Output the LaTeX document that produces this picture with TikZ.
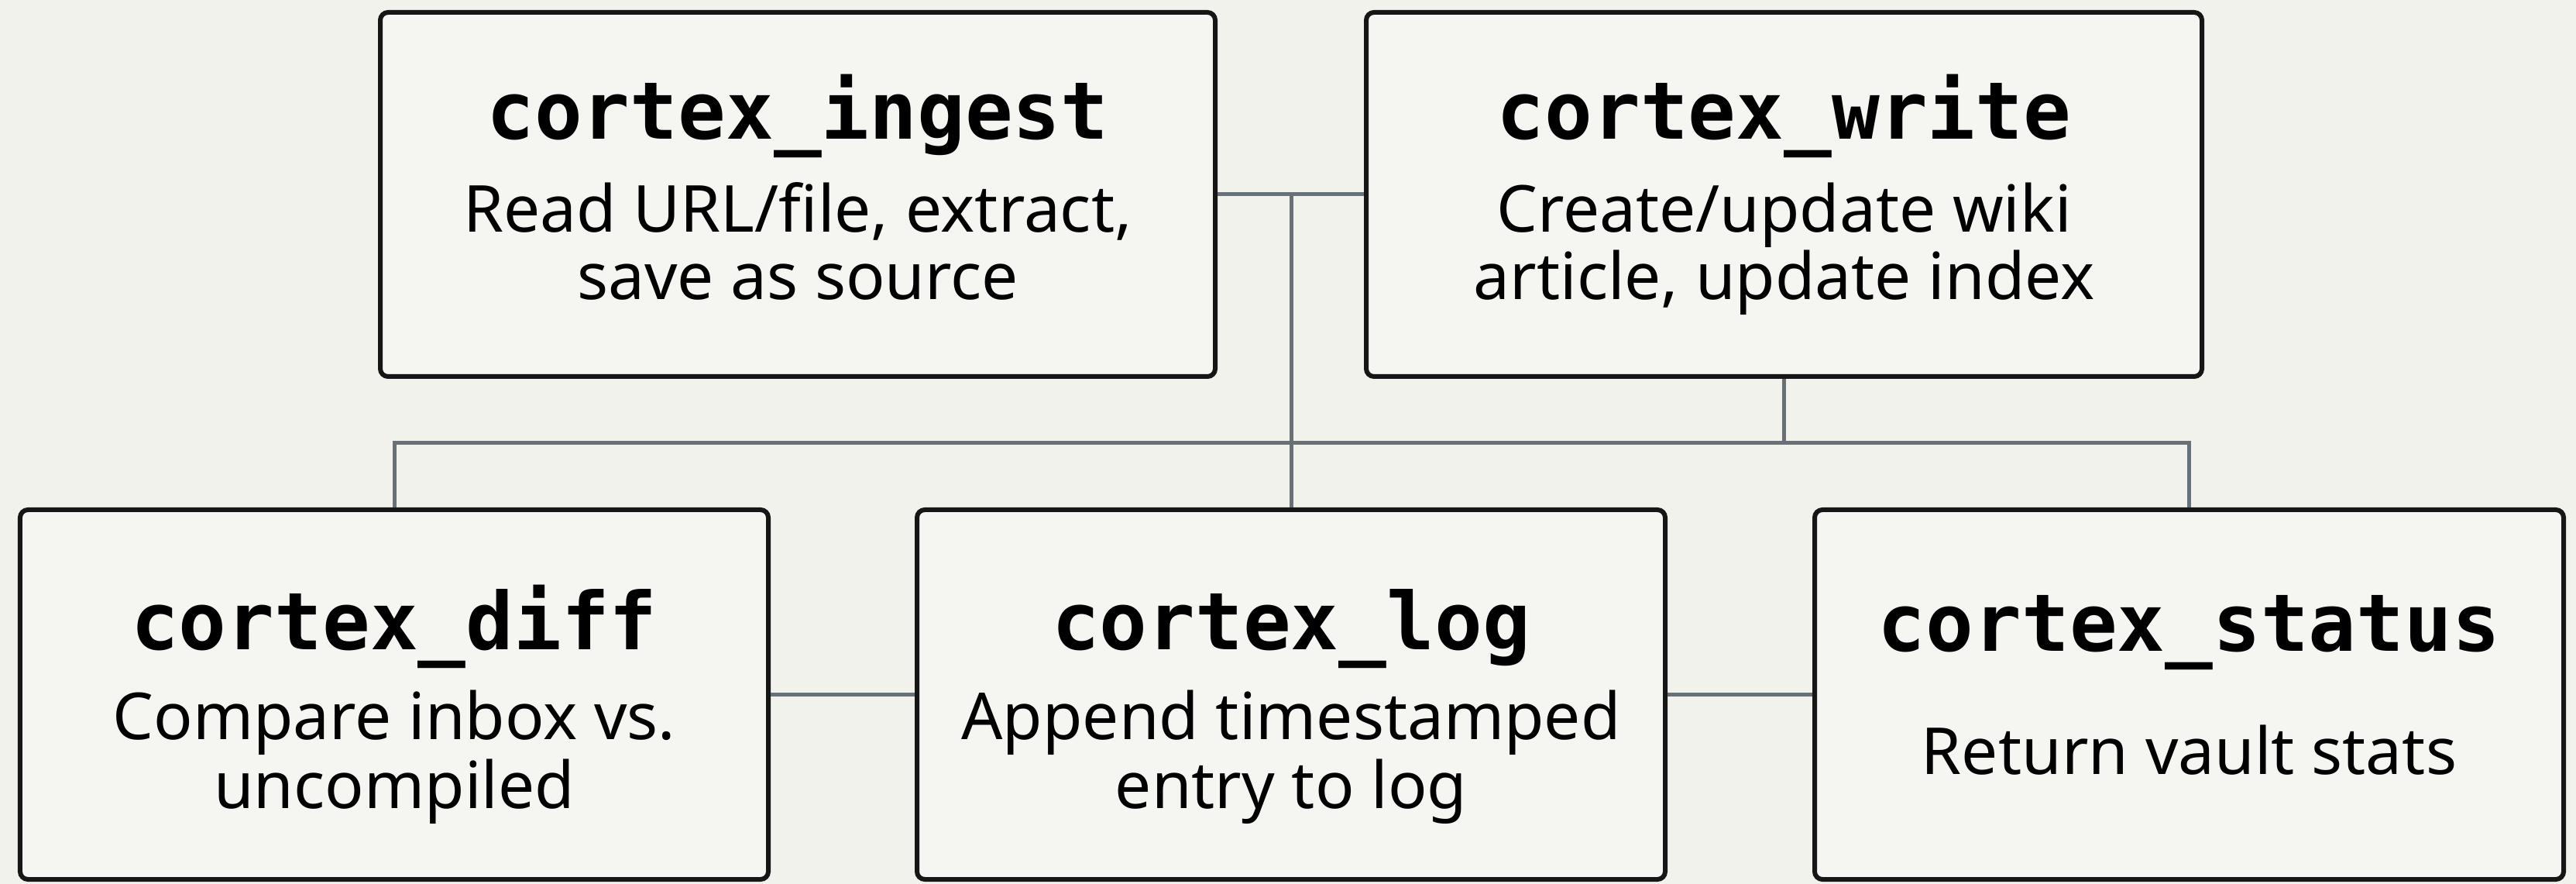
\documentclass[tikz,border=0pt]{standalone}
\usepackage{fontspec}
\setmainfont{Noto Sans}
\newfontfamily\titlefont{DejaVu Sans Mono}
\definecolor{bgc}{RGB}{242,242,237}
\definecolor{boxfill}{RGB}{245,245,241}
\definecolor{wire}{RGB}{104,112,120}
\definecolor{edge}{RGB}{22,22,22}
\begin{document}
\begin{tikzpicture}[
  box/.style={draw=edge, line width=0.06cm, fill=boxfill, rounded corners=0.1cm, inner sep=0pt},
  ttl/.style={anchor=base, inner sep=0pt, font=\titlefont\bfseries\fontsize{29.2}{34}\selectfont, text=black},
  dsc/.style={anchor=base, inner sep=0pt, font=\fontsize{23.8}{28}\selectfont, text=black},
  wireln/.style={draw=wire, line width=0.05cm}
]
\path[use as bounding box, fill=bgc] (0,0) rectangle (33.26,-11.41);

% boxes
\node[box, minimum width=10.78cm, minimum height=4.70cm] (ingest) at (10.30,-2.51) {};
\node[box, minimum width=10.79cm, minimum height=4.70cm] (write) at (23.035,-2.51) {};
\node[box, minimum width=9.66cm, minimum height=4.77cm] (diff) at (5.09,-8.965) {};
\node[box, minimum width=9.66cm, minimum height=4.77cm] (log) at (16.67,-8.965) {};
\node[box, minimum width=9.67cm, minimum height=4.77cm] (status) at (28.265,-8.965) {};

% connectors
\coordinate (busL) at (5.09,-5.72);
\draw[wireln] (ingest.east) -- (write.west);
\draw[wireln] (log.north |- ingest.east) -- (log.north);
\draw[wireln] (diff.north) -- (busL) -| (status.north);
\draw[wireln] (write.south) -- (write.south |- busL);
\draw[wireln] (diff.east) -- (log.west);
\draw[wireln] (log.east) -- (status.west);

% texts
\node[ttl] (ingestT) at (10.30,-1.80) {cortex\_ingest};
\node[dsc] (ingestD1) at (10.30,-3.00) {Read URL/file, extract,};
\node[dsc] (ingestD2) at (10.30,-3.87) {save as source};

\node[ttl] (writeT) at (23.035,-1.80) {cortex\_write};
\node[dsc] (writeD1) at (23.035,-3.00) {Create/update wiki};
\node[dsc] (writeD2) at (23.035,-3.87) {article, update index};

\node[ttl] (diffT) at (5.09,-8.38) {cortex\_diff};
\node[dsc] (diffD1) at (5.09,-9.54) {Compare inbox vs.};
\node[dsc] (diffD2) at (5.09,-10.43) {uncompiled};

\node[ttl] (logT) at (16.67,-8.38) {cortex\_log};
\node[dsc] (logD1) at (16.67,-9.54) {Append timestamped};
\node[dsc] (logD2) at (16.67,-10.43) {entry to log};

\node[ttl] (statusT) at (28.265,-8.40) {cortex\_status};
\node[dsc] (statusD1) at (28.265,-9.99) {Return vault stats};
\end{tikzpicture}
\end{document}
